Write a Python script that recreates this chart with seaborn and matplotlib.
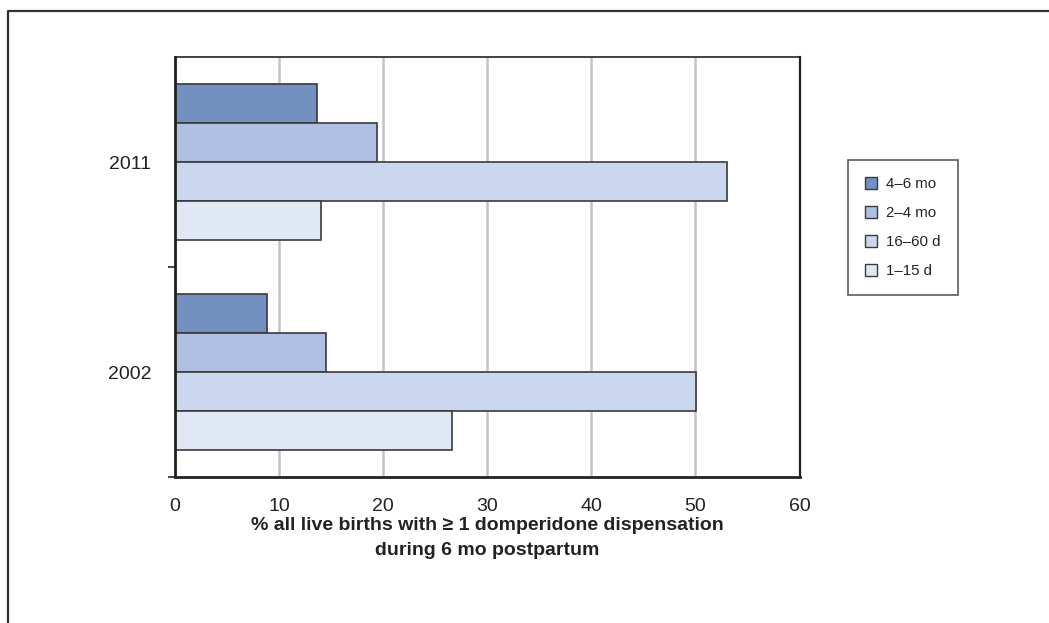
import matplotlib
matplotlib.use("Agg")
import matplotlib.pyplot as plt
from matplotlib.lines import Line2D
import pandas as pd
import seaborn as sns

years = ["2011", "2002"]
periods = ["4–6 mo", "2–4 mo", "16–60 d", "1–15 d"]
share_2011 = [13.6, 19.4, 53.0, 14.0]
share_2002 = [8.8, 14.5, 50.1, 26.6]
x_ticks = [0, 10, 20, 30, 40, 50, 60]
colors = ["#7490c0", "#afc0e3", "#cad7ee", "#e1e8f5"]


def domperidone_bars():
    data = pd.DataFrame({
        "year": [years[0]] * 4 + [years[1]] * 4,
        "period": periods * 2,
        "share": share_2011 + share_2002,
    })

    sns.set_style("white")
    plt.rcParams["font.family"] = ["Liberation Sans", "DejaVu Sans"]

    fig = plt.figure(figsize=(10.49, 6.23), dpi=100)
    ax = fig.add_axes([0.1668, 0.2343, 0.5954, 0.6742])

    sns.barplot(
        data=data,
        x="share",
        y="year",
        hue="period",
        order=years,
        hue_order=periods,
        palette=colors,
        saturation=1,
        orient="h",
        width=0.74,
        edgecolor="#3a3a3a",
        linewidth=1.2,
        ax=ax,
    )

    ax.set_xlim(0, 60)
    ax.set_ylim(1.5, -0.5)
    ax.set_xticks(x_ticks)
    ax.set_xticklabels([str(t) for t in x_ticks], fontsize=14, color="#222222")
    ax.set_yticks([0, 1])
    ax.set_yticklabels(years, fontsize=14, color="#222222")
    ax.tick_params(axis="y", length=0, pad=17)
    ax.tick_params(axis="x", length=5, width=1.2, color="#222222", direction="out", pad=10)
    ax.set_yticks([0.5, 1.5], minor=True)
    ax.tick_params(axis="y", which="minor", length=5, width=1.2, color="#222222", direction="out", left=True)

    ax.grid(axis="x", color="#c4c4c4", linewidth=1.8)
    ax.set_axisbelow(True)
    for side in ["left", "bottom", "top", "right"]:
        ax.spines[side].set_visible(True)
        ax.spines[side].set_color("#222222")
    ax.spines["left"].set_linewidth(2)
    ax.spines["bottom"].set_linewidth(2)
    ax.spines["top"].set_linewidth(1.2)
    ax.spines["right"].set_linewidth(1.6)

    ax.set_ylabel("")
    ax.set_xlabel(
        "% all live births with \u2265 1 domperidone dispensation\nduring 6 mo postpartum",
        fontsize=14,
        fontweight="bold",
        color="#222222",
        labelpad=1.5,
        linespacing=1.65,
    )

    ax.get_legend().remove()
    handles = [
        plt.Rectangle((0, 0), 1, 1, facecolor=c, edgecolor="#3a3a3a", linewidth=1)
        for c in colors
    ]
    leg = fig.legend(
        handles,
        periods,
        loc="upper left",
        bbox_to_anchor=(0.8084, 0.7432),
        frameon=True,
        fancybox=False,
        fontsize=10.8,
        handlelength=0.8,
        handleheight=0.8,
        handletextpad=0.6,
        labelspacing=1.0,
        borderpad=1.15,
        borderaxespad=0,
    )
    leg.get_frame().set_edgecolor("#333333")
    leg.get_frame().set_linewidth(1.2)
    for t in leg.get_texts():
        t.set_color("#222222")

    # outer frame, open at right and bottom
    x0 = 8 / 1049
    y0 = 1 - 11 / 623
    fig.add_artist(Line2D([x0, x0, 1], [0, y0, y0], transform=fig.transFigure,
                          color="#333333", linewidth=1.6))

    fig.savefig("out.png", dpi=100, facecolor="white")


if __name__ == "__main__":
    domperidone_bars()
